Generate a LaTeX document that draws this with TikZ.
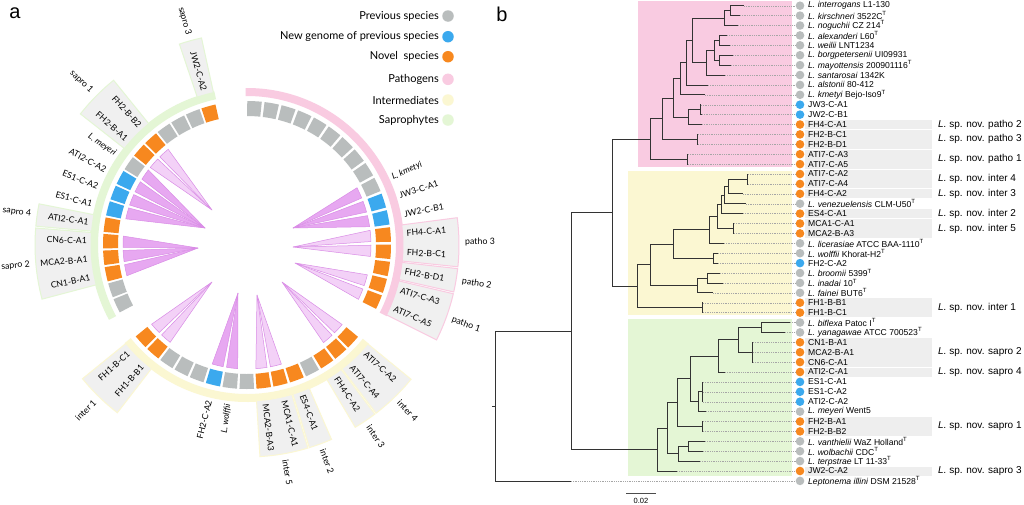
\documentclass[tikz,border=0pt]{standalone}
\usepackage{fontspec}
\setmainfont{Liberation Sans}
\newfontfamily\ringfont{Lato}
\usetikzlibrary{positioning}

\definecolor{prevsp}{HTML}{B9BDBD}
\definecolor{newgen}{HTML}{3BA9EE}
\definecolor{novelsp}{HTML}{F7881F}
\definecolor{pathoc}{HTML}{F9CBE1}
\definecolor{interc}{HTML}{FBF7D2}
\definecolor{saproc}{HTML}{E4F6D5}
\definecolor{boxfill}{HTML}{F0F0F0}
\definecolor{bandgray}{HTML}{EEEEEE}
\definecolor{branchc}{HTML}{333333}
\definecolor{petallight}{HTML}{F3D1F7}
\definecolor{petaldark}{HTML}{E7A8F1}
\definecolor{petaledge}{HTML}{D98CE6}

\newcommand{\typ}{\textsuperscript{T}}
\newcommand{\rowy}[1]{5.7+(#1-1)*9.9}
% one square of the ring, centred on angle #1
\newcommand{\ringsq}[2]{%
  \fill[#2] ({#1-2.9}:129) arc[start angle={#1-2.9}, end angle={#1+2.9}, radius=129]
    -- ({#1+2.9}:144) arc[start angle={#1+2.9}, end angle={#1-2.9}, radius=144] -- cycle;}

\begin{document}
\begin{tikzpicture}[x=1pt, y=-1pt,
  leafdot/.style={circle, inner sep=0pt, minimum size=8.6pt},
  leaflab/.style={anchor=west, inner sep=0pt, font=\fontsize{8.6}{9}\selectfont},
  novlab/.style={anchor=west, inner sep=0pt, font=\fontsize{10}{11}\selectfont},
  branch/.style={draw=branchc, line width=0.8pt},
  leader/.style={draw=black!35, line width=0.35pt, dash pattern=on 0.8pt off 1pt},
  legdot/.style={circle, inner sep=0pt, minimum size=11.5pt},
  legtext/.style={inner sep=0pt, font=\ringfont\fontsize{11}{13}\selectfont},
  ringlab/.style={inner sep=0pt, font=\ringfont\fontsize{8.6}{9}\selectfont},
  grplab/.style={inner sep=0pt, font=\ringfont\fontsize{8.8}{10}\selectfont},
  petal/.style={fill=petallight, draw=petaledge, line width=0.5pt},
  petal dark/.style={petal, fill=petaldark},
  grpbox/.style={fill=boxfill, line width=1pt}]

\useasboundingbox (0,0) rectangle (1024,504);
\fill[white] (0,0) rectangle (1024,504);

%panel letters
\node[inner sep=0pt, font=\fontsize{20}{24}\selectfont] (pa) at (15,13) {a};
\node[inner sep=0pt, font=\fontsize{20}{24}\selectfont] (pb) at (502,14) {b};

%legend
\foreach \y/\cl/\txt [count=\n] in {16/prevsp/Previous species, 36.7/newgen/New genome of previous species,
    56.7/novelsp/Novel~ species, 79.3/pathoc/Pathogens, 100/interc/Intermediates, 120/saproc/Saprophytes}{
  \node[legdot, fill=\cl] (ld\n) at (448,\y) {};
  \node[legtext, left=3pt of ld\n] (lt\n) {\txt};
}

%%%%%%%%%% panel a : ring %%%%%%%%%%
\begin{scope}[shift={(247,245)}, y=1pt]
  %group bands
  \draw[pathoc, line width=8pt] (90.5:153) arc[start angle=90.5, end angle=-27, radius=153];
  \draw[interc, line width=8pt] (-39:153) arc[start angle=-39, end angle=-141.3, radius=153];
  \draw[saproc, line width=8pt] (-151.5:153) arc[start angle=-151.5, end angle=-258, radius=153];

  %boxes of the novel species
  \foreach \a/\b/\cl in {7.4/-5.9/pathoc, -6.4/-12.8/pathoc, -13.3/-26.6/pathoc,
      -39.3/-52.5/interc, -52.9/-59.3/interc, -66.5/-72.9/interc, -73.3/-86.5/interc, -127.7/-140.9/interc,
      -165.2/-184.6/saproc, -185.1/-191.2/saproc, -218.2/-231/saproc, -251.4/-257.6/saproc}
    \filldraw[grpbox, draw=\cl] (\a:156) arc[start angle=\a, end angle=\b, radius=156]
      -- (\b:212) arc[start angle=\b, end angle=\a, radius=212] -- cycle;

  %squares
  \foreach \c [count=\k from 0] in {prevsp,prevsp,prevsp,prevsp,prevsp,prevsp,prevsp,prevsp,prevsp,prevsp,
      newgen,newgen,novelsp,novelsp,novelsp,novelsp,novelsp}
    {\pgfmathsetmacro\ang{87-6.9*\k}\ringsq{\ang}{\c}}
  \foreach \c [count=\k from 0] in {novelsp,novelsp,novelsp,prevsp,novelsp,novelsp,novelsp,prevsp,prevsp,
      newgen,prevsp,prevsp,prevsp,novelsp,novelsp}
    {\pgfmathsetmacro\ang{-42.5-6.8*\k}\ringsq{\ang}{\c}}
  \foreach \c [count=\k from 0] in {prevsp,prevsp,novelsp,novelsp,novelsp,novelsp,newgen,newgen,newgen,
      prevsp,novelsp,novelsp,prevsp,prevsp,prevsp,novelsp}
    {\pgfmathsetmacro\ang{-155-6.63*\k}\ringsq{\ang}{\c}}

  %petals
  \coordinate (tipA) at (46,17);
  \coordinate (tipB) at (46,-2);
  \coordinate (tipC) at (48,-18);
  \coordinate (tipD) at (35,-37);
  \coordinate (tipE) at (10,-50);
  \coordinate (tipF) at (-9,-48);
  \coordinate (tipG) at (-35,-37);
  \coordinate (tipH) at (-49,-3);
  \coordinate (tipI) at (-42,17);
  \coordinate (tipJ) at (-35,35);
  \foreach \a/\tp/\st in {24.9/tipA/petal dark, 18/tipA/petal dark, 11.1/tipA/petal dark,
      4.2/tipB/petal, -2.7/tipB/petal, -16.5/tipC/petal, -23.4/tipC/petal,
      -42.5/tipD/petal, -49.3/tipD/petal, -76.5/tipE/petal, -83.3/tipE/petal,
      -96.9/tipF/petal dark, -103.7/tipF/petal dark, -130.9/tipG/petal, -137.7/tipG/petal,
      -168.26/tipH/petal dark, -174.89/tipH/petal dark, -181.52/tipH/petal dark,
      -194.78/tipI/petal dark, -201.41/tipI/petal dark, -208.04/tipI/petal dark, -214.67/tipI/petal dark,
      -221.3/tipJ/petal, -227.93/tipJ/petal}
    \filldraw[\st] (\tp) -- ({\a+2.6}:124) arc[start angle={\a+2.6}, end angle={\a-2.6}, radius=124] -- cycle;

  %labels, right half
  \foreach \a/\txt [count=\n] in {24.9/\textit{L. kmetyi}, 18/JW3-C-A1, 11.1/JW2-C-B1, 4.2/FH4-C-A1,
      -2.7/FH2-B-C1, -9.6/FH2-B-D1, -16.5/ATI7-C-A3, -23.4/ATI7-C-A5, -42.5/ATI7-C-A2, -49.3/ATI7-C-A4,
      -56.1/FH4-C-A2, -69.7/ES4-C-A1, -76.5/MCA1-C-A1, -83.3/MCA2-B-A3}
    \node[ringlab, anchor=west, rotate=\a] (rr\n) at (\a:160) {\txt};
  %labels, left half
  \foreach \a/\txt [count=\n] in {-96.9/\textit{L. wolffii}, -103.7/FH2-C-A2, -130.9/FH1-B-B1, -137.7/FH1-B-C1,
      -168.26/CN1-B-A1, -174.89/MCA2-B-A1, -181.52/CN6-C-A1, -188.15/ATI2-C-A1, -194.78/ES1-C-A1,
      -201.41/ES1-C-A2, -208.04/ATI2-C-A2, -214.67/\textit{L. meyeri}, -221.3/FH2-B-A1, -227.93/FH2-B-B2,
      -254.45/JW2-C-A2}
    \node[ringlab, anchor=east, rotate=\a+180] (rl\n) at (\a:160) {\txt};

  %group names
  \foreach \a/\txt [count=\n] in {0.75/patho 3, -9.6/patho 2, -19.95/patho 1, -45.9/inter 4,
      -56.1/inter 3, -69.7/inter 2, -79.9/inter 5}
    \node[grplab, anchor=west, rotate=\a] (gr\n) at (\a:218) {\txt};
  \foreach \a/\txt [count=\n] in {-134.3/inter 1, -174.89/sapro 2, -188.15/sapro 4, -224.6/sapro 1,
      -254.45/sapro 3}
    \node[grplab, anchor=east, rotate=\a+180] (gl\n) at (\a:218) {\txt};
\end{scope}

%%%%%%%%%% panel b : tree %%%%%%%%%%
%clade backgrounds
\fill[pathoc] (638,1) rectangle (792,167);
\fill[interc] (628,171) rectangle (792,315);
\fill[saproc] (628,319) rectangle (792,476);

%grey bands behind the novel species
\foreach \a/\b in {13/13, 14/15, 16/17, 18/19, 20/20, 22/22, 23/24, 31/32, 35/37, 38/38, 43/44, 48/48}
  \fill[bandgray] (805,{\rowy{\a}-4.5}) rectangle (932,{\rowy{\b}+4.5});

%leaves
\foreach \i/\cl/\txt in {1/prevsp/{\textit{L. interrogans} L1-130}, 2/prevsp/{\textit{L. kirschneri} 3522C\typ},
    3/prevsp/{\textit{L. noguchii} CZ 214\typ}, 4/prevsp/{\textit{L. alexanderi} L60\typ},
    5/prevsp/{\textit{L. weilii} LNT1234}, 6/prevsp/{\textit{L. borgpetersenii} UI09931},
    7/prevsp/{\textit{L. mayottensis} 200901116\typ}, 8/prevsp/{\textit{L. santarosai} 1342K},
    9/prevsp/{\textit{L. alstonii} 80-412}, 10/prevsp/{\textit{L. kmetyi} Bejo-Iso9\typ},
    11/newgen/JW3-C-A1, 12/newgen/JW2-C-B1, 13/novelsp/FH4-C-A1, 14/novelsp/FH2-B-C1,
    15/novelsp/FH2-B-D1, 16/novelsp/ATI7-C-A3, 17/novelsp/ATI7-C-A5, 18/novelsp/ATI7-C-A2,
    19/novelsp/ATI7-C-A4, 20/novelsp/FH4-C-A2, 21/prevsp/{\textit{L. venezuelensis} CLM-U50\typ},
    22/novelsp/ES4-C-A1, 23/novelsp/MCA1-C-A1, 24/novelsp/MCA2-B-A3,
    25/prevsp/{\textit{L. licerasiae} ATCC BAA-1110\typ}, 26/prevsp/{\textit{L. wolffii} Khorat-H2\typ},
    27/newgen/FH2-C-A2, 28/prevsp/{\textit{L. broomii} 5399\typ}, 29/prevsp/{\textit{L. inadai} 10\typ},
    30/prevsp/{\textit{L. fainei} BUT6\typ}, 31/novelsp/FH1-B-B1, 32/novelsp/FH1-B-C1,
    33/prevsp/{\textit{L. biflexa} Patoc I\typ}, 34/prevsp/{\textit{L. yanagawae} ATCC 700523\typ},
    35/novelsp/CN1-B-A1, 36/novelsp/MCA2-B-A1, 37/novelsp/CN6-C-A1, 38/novelsp/ATI2-C-A1,
    39/newgen/ES1-C-A1, 40/newgen/ES1-C-A2, 41/newgen/ATI2-C-A2, 42/prevsp/{\textit{L. meyeri} Went5},
    43/novelsp/FH2-B-A1, 44/novelsp/FH2-B-B2, 45/prevsp/{\textit{L. vanthielii} WaZ Holland\typ},
    46/prevsp/{\textit{L. wolbachii} CDC\typ}, 47/prevsp/{\textit{L. terpstrae} LT 11-33\typ},
    48/novelsp/JW2-C-A2, 49/prevsp/{\textit{Leptonema illini} DSM 21528\typ}}{
  \node[leafdot, fill=\cl] (d\i) at (800,{\rowy{\i}}) {};
  \node[leaflab] (n\i) at (808,{\rowy{\i}}) {\txt};
}

%novel species names
\foreach \y/\txt [count=\n] in {124.5/patho 2, 139.35/patho 3, 159.15/patho 1, 178.95/inter 4, 193.8/inter 3,
    213.6/inter 2, 228.45/inter 5, 307.65/inter 1, 352.2/sapro 2, 372/sapro 4, 426.45/sapro 1, 471/sapro 3}
  \node[novlab] (sp\n) at (938,\y) {\textit{L.} sp. nov. \txt};

%leaf tips
\foreach \i/\tx in {1/744, 2/740, 3/738, 4/727, 5/730, 6/733, 7/731, 8/725, 9/708, 10/705, 11/701, 12/702,
    13/702, 14/698, 15/698, 16/688, 17/688, 18/748, 19/748, 20/743, 21/746, 22/743, 23/734, 24/734,
    25/724, 26/718, 27/718, 28/720, 29/723, 30/713, 31/703, 32/703, 33/790, 34/785, 35/753, 36/753,
    37/753, 38/725, 39/703, 40/703, 41/703, 42/706, 43/703, 44/703, 45/705, 46/703, 47/700, 48/677, 49/571}
  \coordinate (t\i) at (\tx,{\rowy{\i}});

%inner nodes
\coordinate (A1) at (730,10.65);   \coordinate (A2) at (724,18.1);
\coordinate (B1) at (719,40.35);   \coordinate (B2) at (719,60.15);
\coordinate (B3) at (714,50.25);   \coordinate (B4) at (706,62.6);
\coordinate (A3) at (692,40.35);   \coordinate (A4) at (686,62.6);
\coordinate (K) at (680,78.7);     \coordinate (J) at (700,109.65);
\coordinate (P3) at (688,117.1);   \coordinate (P2) at (673,97.9);
\coordinate (FB) at (697,139.35);  \coordinate (P1) at (662,118.6);
\coordinate (AT) at (687,159.15);  \coordinate (P0) at (650,138.9);
\coordinate (ATIA) at (747,178.95); \coordinate (Y5) at (728,186.4);
\coordinate (Y4) at (724,195.05);  \coordinate (Y3) at (721,204.3);
\coordinate (MCA) at (733,228.45); \coordinate (Y2b) at (717,216.4);
\coordinate (Y2) at (709,229.85);  \coordinate (WF) at (713,258.15);
\coordinate (Y1b) at (673,244);    \coordinate (BI) at (707,277.95);
\coordinate (BIF) at (697,285.4);  \coordinate (Y1) at (650,264.7);
\coordinate (FH1) at (702,307.65); \coordinate (Y0) at (637,286.2);
\coordinate (BY) at (761,327.45);  \coordinate (CN) at (752,352.2);
\coordinate (G6) at (738,339.8);   \coordinate (G5) at (718,355.9);
\coordinate (ES) at (702,391.8);   \coordinate (G7) at (698,401.7);
\coordinate (G4) at (690,378.8);   \coordinate (FH2B) at (702,426.45);
\coordinate (G3) at (677,402.6);   \coordinate (V1) at (688,446.25);
\coordinate (V2) at (678,453.7);   \coordinate (G2) at (667,428.15);
\coordinate (G0) at (657,449.6);
\coordinate (R2) at (612,212.55);  \coordinate (R1) at (571,331.1);
\coordinate (R0) at (495,406);

%dotted leaders
\foreach \i in {1,...,49}
  \draw[leader] (t\i) -- (d\i.west);

%branches
\foreach \p/\c in {A1/t1, A1/t2, A2/A1, A2/t3, B1/t4, B1/t5, B2/t6, B2/t7, B3/B1, B3/B2, B4/B3, B4/t8,
    A3/A2, A3/B4, A4/A3, A4/t9, K/A4, K/t10, J/t11, J/t12, P3/J, P3/t13, P2/K, P2/P3, FB/t14, FB/t15,
    P1/P2, P1/FB, AT/t16, AT/t17, P0/P1, P0/AT,
    ATIA/t18, ATIA/t19, Y5/ATIA, Y5/t20, Y4/Y5, Y4/t21, Y3/Y4, Y3/t22, MCA/t23, MCA/t24, Y2b/Y3, Y2b/MCA,
    Y2/Y2b, Y2/t25, WF/t26, WF/t27, Y1b/Y2, Y1b/WF, BI/t28, BI/t29, BIF/BI, BIF/t30, Y1/Y1b, Y1/BIF,
    FH1/t31, FH1/t32, Y0/Y1, Y0/FH1,
    BY/t33, BY/t34, CN/t35, CN/t36, CN/t37, G6/BY, G6/CN, G5/G6, G5/t38, ES/t39, ES/t40, ES/t41,
    G7/ES, G7/t42, G4/G5, G4/G7, FH2B/t43, FH2B/t44, G3/G4, G3/FH2B, V1/t45, V1/t46, V2/V1, V2/t47,
    G2/G3, G2/V2, G0/G2, G0/t48,
    R2/P0, R2/Y0, R1/R2, R1/G0, R0/R1, R0/t49}
  \draw[branch] (\p) |- (\c);
\draw[branch] (R0) -- ++(-3,0);

%scale bar
\coordinate (sb1) at (626,493);
\coordinate (sb2) at (656,493);
\draw[line width=0.6pt, black!70] (sb1) -- (sb2);
\node[inner sep=0pt, font=\fontsize{7.5}{8}\selectfont] (sbl) at (641,501) {0.02};
\end{tikzpicture}
\end{document}
